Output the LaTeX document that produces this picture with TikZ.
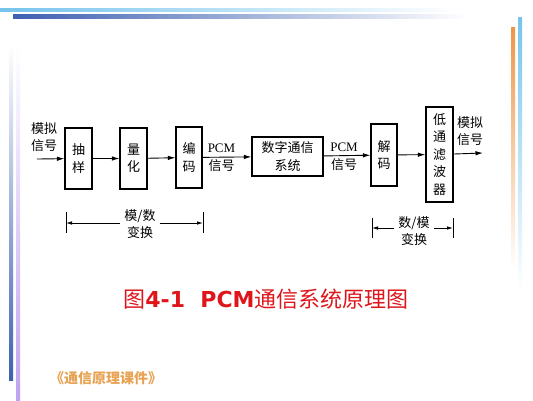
\documentclass[tikz,border=0pt]{standalone}
\usepackage{fontspec}
\setmainfont{Liberation Serif}
\newfontfamily\cjk{Noto Sans CJK SC}
\newfontfamily\titlelat{DejaVu Sans}
\usetikzlibrary{arrows.meta}

\definecolor{titlered}{RGB}{222,22,28}
\definecolor{footorange}{RGB}{232,162,82}
\definecolor{barblue}{RGB}{62,96,178}
\definecolor{skyblue}{RGB}{118,196,236}
\definecolor{lilac}{RGB}{192,162,240}
\definecolor{barorange}{RGB}{238,150,72}

\begin{document}
\begin{tikzpicture}[x=1pt, y=-1pt,
    block/.style={draw, line width=1.2pt, align=center, inner sep=0pt,
        font=\cjk\fontsize{13}{17.5}\selectfont},
    lbl/.style={align=center, inner sep=0pt, font=\fontsize{13}{18}\selectfont},
    cjklbl/.style={lbl, font=\cjk\fontsize{13}{17}\selectfont},
    sig/.style={line width=0.9pt, -{Latex[length=7.5pt,width=4.5pt]}},
    rangearrow/.style={line width=0.8pt, {Latex[length=6pt,width=3.5pt]}-{Latex[length=6pt,width=3.5pt]}}]
        \fill[white] (0,0) rectangle (533,400);
        \useasboundingbox (0,0) rectangle (533,400);

        % slide frame
        \fill[left color=skyblue, right color=white] (0,8.5) rectangle (460,11.5);
        \fill[left color=barblue, right color=white] (13,14) rectangle (468,18);
        \fill[top color=white, bottom color=barblue] (9,45) rectangle (13,380);
        \fill[top color=white, bottom color=lilac] (16,45) rectangle (20,400);
        \fill[top color=barorange, bottom color=white] (511,27) rectangle (515,270);
        \fill[top color=skyblue, bottom color=white] (518,17) rectangle (522,290);

        % blocks
        \node[block, minimum width=27, minimum height=61] (cy) at (78.5, 158.5) {抽\\样};
        \node[block, minimum width=27, minimum height=61] (lh) at (133.5, 158.5) {量\\化};
        \node[block, minimum width=26, minimum height=61] (bm) at (189, 157.5) {编\\码};
        \node[block, minimum width=71, minimum height=39] (sys) at (287.5, 156.5) {数字通信\\系统};
        \node[block, minimum width=26, minimum height=62] (jm) at (384, 155) {解\\码};
        \node[block, minimum width=27, minimum height=95] (lpf) at (439.5, 154.5) {低\\通\\滤\\波\\器};

        % signal labels
        \node[cjklbl] (inlbl) at (44, 137) {模拟\\信号};
        \node[lbl] (pcma) at (221.5, 157.5) {PCM\\{\cjk 信号}};
        \node[lbl] (pcmb) at (344, 157) {PCM\\{\cjk 信号}};
        \node[cjklbl] (outlbl) at (470, 131.5) {模拟\\信号};
        \coordinate (in) at (37, 159);
        \coordinate (out) at (483, 153);

        \draw[sig] (in) -- (cy);
        \draw[sig] (cy) -- (lh);
        \draw[sig] (lh) -- (bm);
        \draw[sig] (bm) -- (sys);
        \draw[sig] (sys) -- (jm);
        \draw[sig] (jm) -- (lpf);
        \draw[sig] (lpf) -- (out);

        % conversion ranges
        \coordinate (adl) at (66, 223);
        \coordinate (adr) at (203, 223);
        \draw[line width=0.8pt] (adl) ++(0,-11) -- ++(0,21);
        \draw[line width=0.8pt] (adr) ++(0,-11) -- ++(0,21);
        \draw[rangearrow] (adl) -- (adr);
        \node[cjklbl, fill=white, inner xsep=4pt, inner ysep=1pt] (ad) at (140, 224) {模/数\\变换};

        \coordinate (dal) at (372, 228);
        \coordinate (dar) at (453, 228);
        \draw[line width=0.8pt] (dal) ++(0,-10) -- ++(0,20);
        \draw[line width=0.8pt] (dar) ++(0,-10) -- ++(0,20);
        \draw[rangearrow] (dal) -- (dar);
        \node[cjklbl, fill=white, inner xsep=4pt, inner ysep=1pt] (da) at (414, 231) {数/模\\变换};

        % caption
        \node[text=titlered, font=\fontsize{22}{22}\selectfont] (title) at (266, 299)
            {{\cjk 图}{\titlelat\bfseries 4-1\ \ PCM}{\cjk 通信系统原理图}};
        \node[text=footorange, anchor=west, inner sep=0pt, font=\cjk\bfseries\fontsize{14}{14}\selectfont] (foot) at (50, 378) {《通信原理课件》};
\end{tikzpicture}
\end{document}
